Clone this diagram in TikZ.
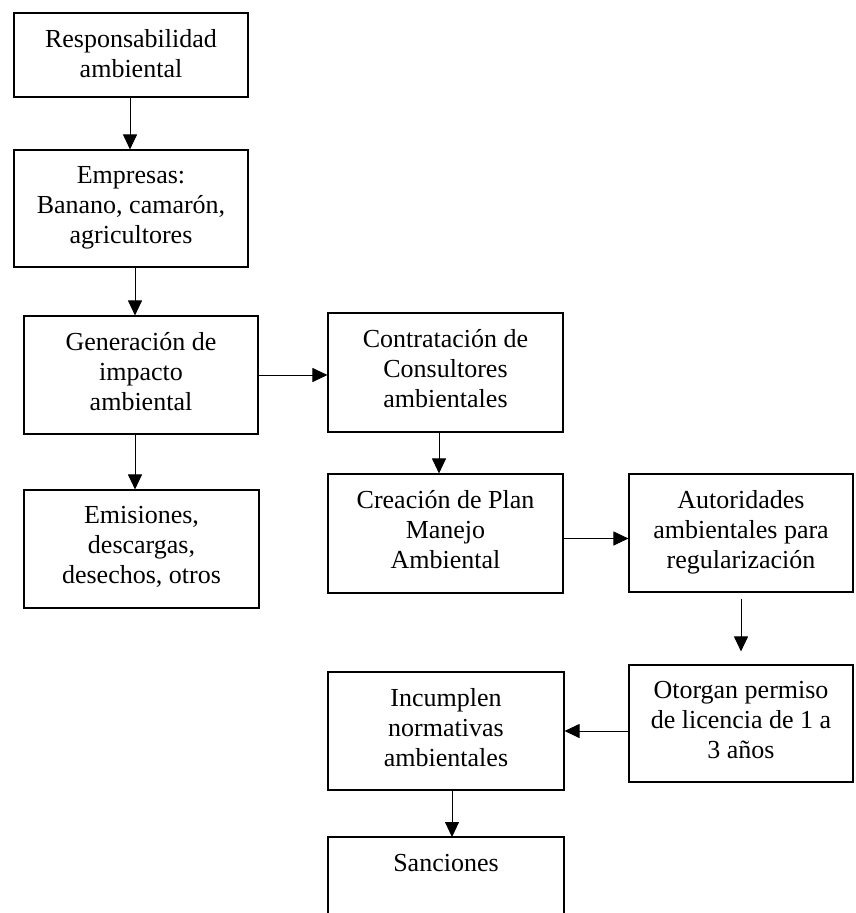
\documentclass[tikz,border=0pt]{standalone}
\usepackage{fontspec}
\setmainfont{Liberation Serif}
\usetikzlibrary{arrows.meta}
\begin{document}
\begin{tikzpicture}[x=1pt,y=-1pt,
  box/.style={draw=black, line width=1.1pt, rectangle, inner sep=0pt},
  txt/.style={anchor=north, align=center, inner sep=0pt, font=\fontsize{26pt}{30pt}\selectfont},
  arr/.style={draw=black, line width=1pt, -{Triangle[length=15pt,width=14pt]}}]
\useasboundingbox (0,0) rectangle (855,913);
% boxes
\node[box, minimum width=234pt, minimum height=84pt] (b1) at (131,55) {};
\node[box, minimum width=234pt, minimum height=117pt] (b2) at (131,208.5) {};
\node[box, minimum width=234pt, minimum height=118pt] (b3) at (141,375) {};
\node[box, minimum width=235pt, minimum height=118pt] (b4) at (141.5,549) {};
\node[box, minimum width=235pt, minimum height=119pt] (b5) at (445.5,372.5) {};
\node[box, minimum width=235pt, minimum height=119pt] (b6) at (445.5,533.5) {};
\node[box, minimum width=224pt, minimum height=118pt] (b7) at (741,533) {};
\node[box, minimum width=224pt, minimum height=117pt] (b8) at (741,723.5) {};
\node[box, minimum width=236pt, minimum height=118pt] (b9) at (446,731) {};
% open box at the bottom
\coordinate (b10nw) at (328,837);
\coordinate (b10ne) at (564,837);
\coordinate (b10n) at (446,837);
\draw[line width=1.1pt] (b10nw) ++(0,76) -- (b10nw) -- (b10ne) -- ++(0,76);
% texts
\node[txt] (t1) at ([yshift=-17pt]b1.north) {Responsabilidad\\ambiental};
\node[txt] (t2) at ([yshift=-17pt]b2.north) {Empresas:\\Banano, camarón,\\agricultores};
\node[txt] (t3) at ([yshift=-17pt]b3.north) {Generación de\\impacto\\ambiental};
\node[txt] (t4) at ([yshift=-17pt]b4.north) {Emisiones,\\descargas,\\desechos, otros};
\node[txt] (t5) at ([yshift=-17pt]b5.north) {Contratación de\\Consultores\\ambientales};
\node[txt] (t6) at ([yshift=-17pt]b6.north) {Creación de Plan\\Manejo\\Ambiental};
\node[txt] (t7) at ([yshift=-17pt]b7.north) {Autoridades\\ambientales para\\regularización};
\node[txt] (t8) at ([yshift=-17pt]b8.north) {Otorgan permiso\\de licencia de 1 a\\3 años};
\node[txt] (t9) at ([yshift=-17pt]b9.north) {Incumplen\\normativas\\ambientales};
\node[txt] (t10) at ([yshift=-17pt]b10n) {Sanciones};
% connectors
\draw[arr] ([xshift=-1pt]b1.south) -- ([xshift=-1pt]b2.north);
\draw[arr] ([xshift=4pt]b2.south) -- ([xshift=-6pt]b3.north);
\draw[arr] ([xshift=-6pt]b3.south) -- ([xshift=-6.5pt]b4.north);
\draw[arr] (b3.east) -- (b3.east -| b5.west);
\draw[arr] ([xshift=-6.5pt]b5.south) -- ([xshift=-6.5pt]b6.north);
\draw[arr] ([yshift=-5pt]b6.east) -- ([yshift=-5pt]b6.east -| b7.west);
\draw[arr] ([yshift=-6pt]b7.south) -- ([yshift=13pt]b8.north);
\draw[arr] (b8.west |- b9.east) -- (b9.east);
\draw[arr] ([xshift=6pt]b9.south) -- ([xshift=6pt]b10n);
\end{tikzpicture}
\end{document}
